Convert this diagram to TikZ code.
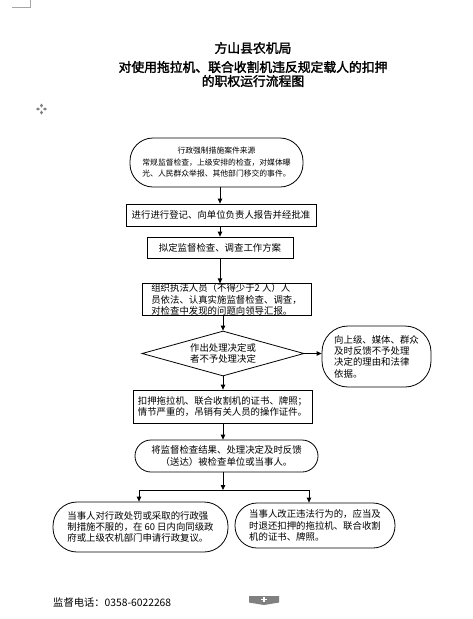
\documentclass[tikz,border=0pt]{standalone}
\usepackage{fontspec}
\setmainfont{Noto Sans CJK SC}
\newfontfamily\titlefont[FakeBold=2]{Noto Sans CJK SC}
\usetikzlibrary{arrows.meta,shapes.geometric}
\begin{document}
\begin{tikzpicture}[x=1pt,y=-1pt,
  box/.style={draw, line width=0.8pt, inner sep=0pt, font=\fontsize{9.4}{11.3}\selectfont},
  smallbox/.style={box, font=\fontsize{7.8}{11.5}\selectfont},
  arr/.style={-{Triangle[length=5pt,width=4.5pt]}, line width=0.8pt},
  ttl/.style={font=\titlefont\fontsize{12.8}{14}\selectfont, inner sep=0pt},
  cornermark/.style={draw=black!35, line width=0.6pt}]
\useasboundingbox (0,0) rectangle (472,619);
% corner mark
\draw[cornermark] (12,7) -- (30.5,7) -- (30.5,0);
% move icon
\fill[black!50] (41.5,103.5) -- (43,105.5) -- (41.5,107.5) -- (40,105.5) -- cycle;
\fill[black!50] (41.5,110.5) -- (43,112.5) -- (41.5,114.5) -- (40,112.5) -- cycle;
\fill[black!50] (36,109) -- (38,107.5) -- (40,109) -- (38,110.5) -- cycle;
\fill[black!50] (43,109) -- (45,107.5) -- (47,109) -- (45,110.5) -- cycle;
% title
\node[ttl] (t1) at (253,48) {方山县农机局};
\node[ttl] (t2) at (253,67) {对使用拖拉机、联合收割机违反规定载人的扣押};
\node[ttl] (t3) at (253,81) {的职权运行流程图};
% nodes
\node[smallbox, rounded corners=23pt, minimum width=173pt, minimum height=49pt, align=center] (n1) at (216.5,162.5)
  {行政强制措施案件来源\\常规监督检查，上级安排的检查，对媒体曝\\光、人民群众举报、其他部门移交的事件。};
\node[box, minimum width=190pt, minimum height=22pt] (b2) at (221,215)
  {进行进行登记、向单位负责人报告并经批准};
\node[box, minimum width=146pt, minimum height=21pt] (b3) at (220,247.5)
  {拟定监督检查、调查工作方案};
\node[box, minimum width=169pt, minimum height=31pt, align=left] (b4) at (226.5,299.5)
  {组织执法人员（不得少于2 人）人\\员依法、认真实施监督检查、调查，\\对检查中发现的问题向领导汇报。};
\node[box, shape=diamond, aspect=3.6, minimum width=162pt, minimum height=45pt, align=center] (dm) at (223,353.5)
  {作出处理决定或\\者不予处理决定};
\node[box, rounded corners=26pt, minimum width=109pt, minimum height=61pt, align=left] (rs) at (376.5,356.5)
  {向上级、媒体、群众\\及时反馈不予处理\\决定的理由和法律\\依据。};
\node[box, minimum width=179pt, minimum height=33pt, align=left] (b5) at (222.5,406.5)
  {扣押拖拉机、联合收割机的证书、牌照；\\情节严重的，吊销有关人员的操作证件。};
\node[box, rounded corners=16pt, minimum width=183pt, minimum height=32pt, align=center] (s6) at (226.5,456)
  {将监督检查结果、处理决定及时反馈\\（送达）被检查单位或当事人。};
\node[box, rounded corners=24pt, minimum width=175pt, minimum height=50pt, align=left] (s7) at (140.5,527)
  {当事人对行政处罚或采取的行政强\\制措施不服的，在 60 日内向同级政\\府或上级农机部门申请行政复议。};
\node[box, rounded corners=22pt, minimum width=160pt, minimum height=45pt, align=left] (s8) at (315,525.5)
  {当事人改正违法行为的，应当及\\时退还扣押的拖拉机、联合收割\\机的证书、牌照。};
% connectors
\coordinate (ax) at (220,0);
\coordinate (bx) at (223,0);
\draw[arr] (ax |- n1.south) -- (ax |- b2.north);
\draw[arr] (ax |- b2.south) -- (ax |- b3.north);
\draw[arr] (ax |- b3.south) -- (ax |- b4.north);
\draw[arr] (dm.north |- b4.south) -- (dm.north);
\draw[arr] (dm.east) -- (dm.east -| rs.west);
\draw[arr] (dm.south) -- (dm.south |- b5.north);
\draw[arr] (bx |- b5.south) -- (bx |- s6.north);
\coordinate (j) at (223,490);
\coordinate (jl) at (139,490);
\coordinate (jr) at (309,490);
\draw[arr] (j |- s6.south) -- (j);
\draw[line width=0.8pt] (jl) -- (jr);
\draw[arr] (jl) -- (jl |- s7.north);
\draw[arr] (jr) -- (jr |- s8.north);
% footer
\node[anchor=west, inner sep=0pt, font=\fontsize{10.3}{12}\selectfont] (ft) at (53,603) {监督电话：0358-6022268};
\fill[black!50] (249,596) -- (279,596) -- (279,602.5) -- (264,605) -- (249,602.5) -- cycle;
\draw[white, line width=1.2pt] (261,599.5) -- (267,599.5) (264,597) -- (264,602);
\end{tikzpicture}
\end{document}
